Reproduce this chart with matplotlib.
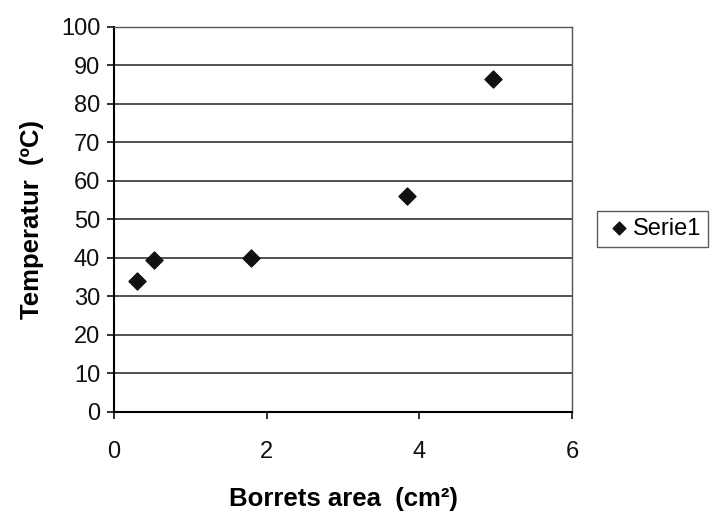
import matplotlib.pyplot as plt

plt.rcParams["font.family"] = ["Liberation Sans", "DejaVu Sans"]

area = [0.30, 0.53, 1.80, 3.84, 4.97]
temperatur = [34, 39.5, 40, 56, 86.5]
x_ticks = [0, 2, 4, 6]
y_ticks = list(range(0, 101, 10))

fig = plt.figure(figsize=(7.19, 5.15), dpi=100)
ax = fig.add_axes([0.1586, 0.2, 0.637, 0.7476])

ax.scatter(area, temperatur, marker="D", s=75, color="#111111", zorder=3, label="Serie1")

ax.set_xlim(0, 6)
ax.set_ylim(0, 100)
ax.set_xticks(x_ticks)
ax.set_yticks(y_ticks)
ax.yaxis.grid(True, color="#222222", linewidth=1.1)
ax.set_axisbelow(True)

for side in ["left", "bottom"]:
    ax.spines[side].set_linewidth(1.5)
for side in ["top", "right"]:
    ax.spines[side].set_linewidth(1.0)
    ax.spines[side].set_color("#555555")

ax.tick_params(axis="both", direction="out", length=5, width=1.2, labelsize=17, colors="#111111")
ax.tick_params(axis="x", pad=16)
ax.tick_params(axis="y", pad=5)

ax.set_xlabel("Borrets area  (cm²)", fontsize=18.5, fontweight="bold", labelpad=17)
ax.set_ylabel("Temperatur  (ºC)", fontsize=18.5, fontweight="bold", labelpad=12)

fig.legend(loc="center", bbox_to_anchor=(0.908, 0.556), fontsize=17, frameon=True,
           fancybox=False, edgecolor="#333333", handletextpad=0.0, borderpad=0.3,
           handlelength=1.2, markerscale=0.75)

fig.savefig("out.png", dpi=100)
